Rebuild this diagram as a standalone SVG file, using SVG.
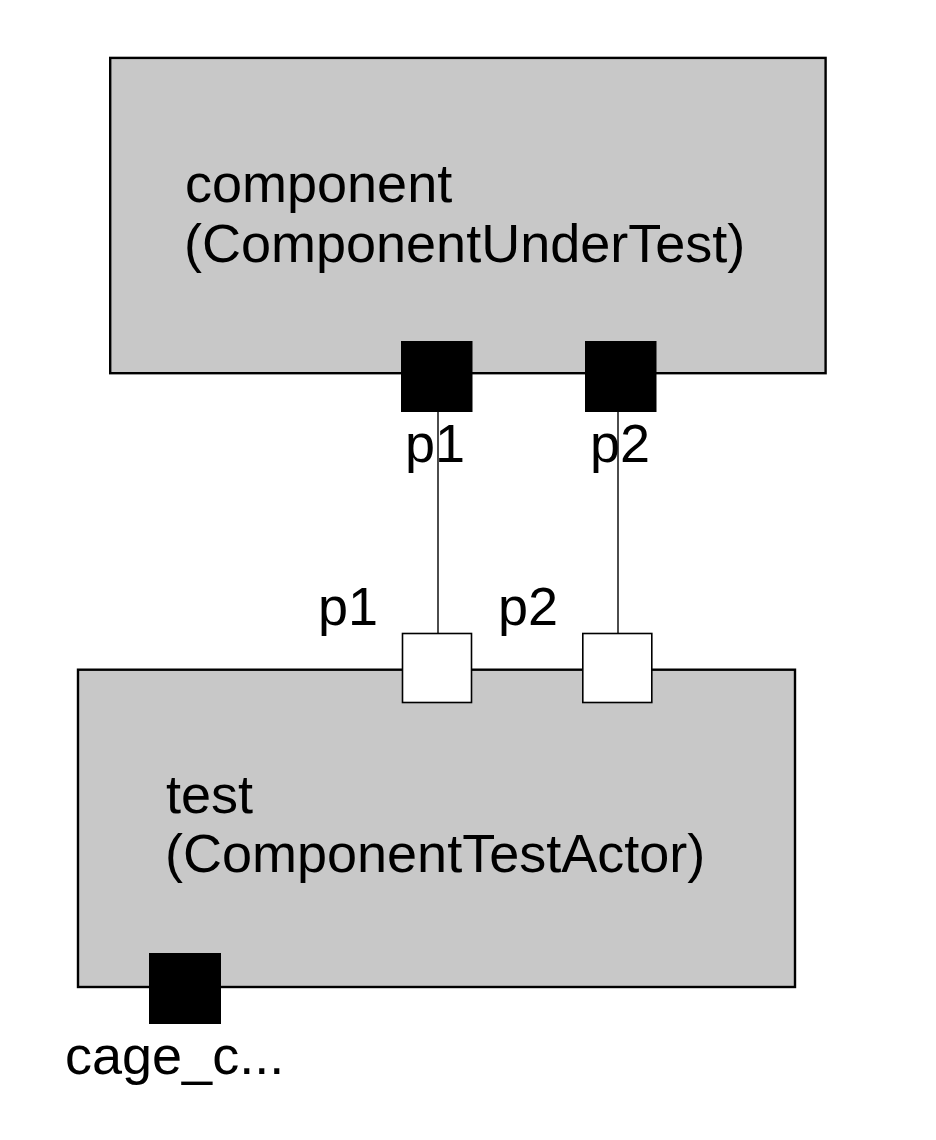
<svg xmlns="http://www.w3.org/2000/svg" width="936" height="1140" viewBox="0 0 936 1140">
<style>
.part{fill:#c8c8c8;stroke:#000;stroke-width:2.4}
.bport{fill:#000;stroke:none}
.wport{fill:#fff;stroke:#000;stroke-width:1.6}
.conn{stroke:#000;stroke-width:1.4;fill:none}
text{font-family:"Liberation Sans",Arial,sans-serif;font-size:54px;fill:#000}
</style>
<rect width="936" height="1140" fill="#fff"/>
<g id="connectors">
<line class="conn" x1="438" y1="412" x2="438" y2="633"/>
<line class="conn" x1="618" y1="412" x2="618" y2="633"/>
</g>
<g id="component">
<rect class="part" x="110.2" y="57.9" width="715.4" height="315.3"/>
<text x="185" y="202">component</text>
<text x="184" y="262">(ComponentUnderTest)</text>
</g>
<g id="component-p1">
<rect class="bport" x="401" y="341" width="71.5" height="71"/>
<text x="405" y="462">p1</text>
</g>
<g id="component-p2">
<rect class="bport" x="585" y="341" width="71.5" height="71"/>
<text x="590" y="462">p2</text>
</g>
<g id="test">
<rect class="part" x="78" y="669.7" width="717" height="317.3"/>
<text x="166" y="813">test</text>
<text x="165" y="872">(ComponentTestActor)</text>
</g>
<g id="test-p1">
<rect class="wport" x="402.5" y="633.5" width="69" height="69"/>
<text x="318" y="625">p1</text>
</g>
<g id="test-p2">
<rect class="wport" x="582.8" y="633.5" width="69" height="69"/>
<text x="498" y="625">p2</text>
</g>
<g id="test-cage">
<rect class="bport" x="149" y="953" width="72" height="71"/>
<text x="65" y="1074">cage_c...</text>
</g>
</svg>
